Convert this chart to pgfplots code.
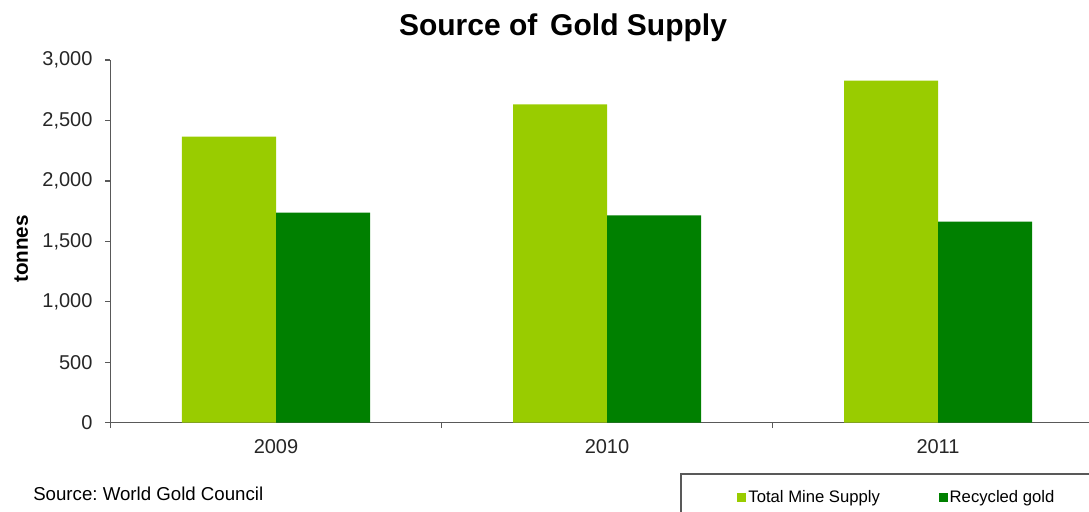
\documentclass[border=0pt]{standalone}
\usepackage{pgfplots}
\pgfplotsset{compat=1.18}
\usepackage{fontspec}
\setmainfont{Liberation Sans}
\frenchspacing

\definecolor{mine}{HTML}{99CC00}
\definecolor{recyc}{HTML}{008000}
\definecolor{axisgrey}{HTML}{595959}

\pgfplotsset{
  sq legend/.style={legend image code/.code={\fill[##1] (0pt,-3.4pt) rectangle (6.8pt,3.4pt);}}
}

\begin{document}
\begin{tikzpicture}[x=0.75pt,y=0.75pt]
  \useasboundingbox (0,0) rectangle (1089,511);
  \clip (0,0) rectangle (1089,511);

  \node[font=\fontsize{22.5}{26}\selectfont\bfseries, anchor=base] at (563,475) {Source of\hspace{0.15em} Gold Supply};
  \node[font=\fontsize{14}{16}\selectfont, anchor=base west, inner sep=0pt] at (33,10.3) {Source: World Gold Council};

  \begin{axis}[
      at={(82.875pt,66.225pt)}, anchor=south west,
      scale only axis,
      width=744.75pt, height=272pt,
      ybar=0pt, bar width=70.5pt,
      xmin=-0.5, xmax=2.5,
      ymin=0, ymax=3000,
      axis x line*=bottom, axis y line*=left,
      axis line style={axisgrey, line width=0.9pt, -},
      every tick/.style={axisgrey, line width=0.9pt},
      tick align=outside, major tick length=4pt,
      xtick={-0.5,0.5,1.5,2.5}, xticklabels={},
      extra x ticks={0,1,2},
      extra x tick labels={2009,2010,2011},
      extra x tick style={major tick length=0pt,
        tick label style={anchor=center, yshift=-18pt}},
      ytick={0,500,...,3000},
      yticklabel style={xshift=-6pt},
      ticklabel style={font=\fontsize{15}{17}\selectfont, text=black!85},
      /pgf/number format/.cd, 1000 sep={,}, assume math mode=true,
      /pgfplots/.cd,
      ylabel={tonnes},
      ylabel style={font=\fontsize{15.5}{17}\selectfont\bfseries,
        at={(axis description cs:-0.090,0.479)}, anchor=center},
      legend columns=2,
      legend style={at={(axis description cs:0.631,-0.205)}, anchor=west,
        draw=none, fill=none, inner sep=0pt,
        font=\fontsize{12.5}{14}\selectfont,
        nodes={inner sep=1.5pt},
        /tikz/every even column/.append style={column sep=42.5pt}},
    ]
    % Total Mine Supply
    \addplot[draw=none, fill=mine, sq legend] coordinates {
      (0, 2366) (1, 2634) (2, 2829) };
    % Recycled gold
    \addplot[draw=none, fill=recyc, sq legend] coordinates {
      (0, 1737) (1, 1715) (2, 1663) };
    \legend{Total Mine Supply, Recycled gold}
  \end{axis}

  \draw[axisgrey, line width=0.9pt] (681,-10) rectangle (1100,37);
\end{tikzpicture}
\end{document}
